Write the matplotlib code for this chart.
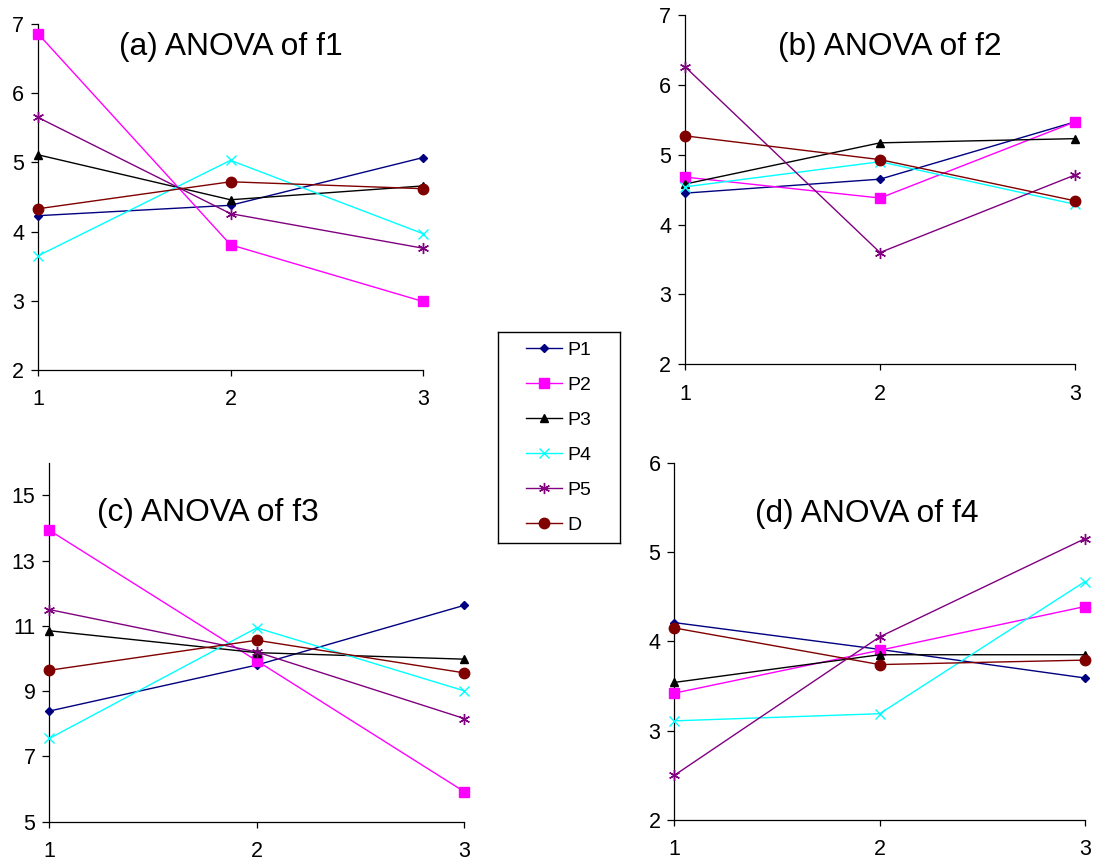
import matplotlib
matplotlib.use("Agg")
import matplotlib.pyplot as plt
from matplotlib.lines import Line2D

plt.rcParams['font.family'] = ['Liberation Sans', 'DejaVu Sans']

levels = [1, 2, 3]
series_names = ["P1", "P2", "P3", "P4", "P5", "D"]

# mean response at each level, one list per series
f1_P1 = [4.23, 4.38, 5.07]
f1_P2 = [6.86, 3.81, 2.99]
f1_P3 = [5.11, 4.46, 4.66]
f1_P4 = [3.65, 5.03, 3.97]
f1_P5 = [5.65, 4.26, 3.76]
f1_D = [4.33, 4.72, 4.62]

f2_P1 = [4.45, 4.65, 5.47]
f2_P2 = [4.68, 4.38, 5.47]
f2_P3 = [4.58, 5.17, 5.23]
f2_P4 = [4.54, 4.90, 4.29]
f2_P5 = [6.26, 3.60, 4.71]
f2_D = [5.27, 4.93, 4.34]

f3_P1 = [8.39, 9.80, 11.63]
f3_P2 = [13.93, 9.93, 5.92]
f3_P3 = [10.85, 10.18, 9.98]
f3_P4 = [7.55, 10.94, 9.01]
f3_P5 = [11.50, 10.20, 8.16]
f3_D = [9.64, 10.56, 9.56]

f4_P1 = [4.21, 3.91, 3.59]
f4_P2 = [3.42, 3.90, 4.39]
f4_P3 = [3.54, 3.85, 3.85]
f4_P4 = [3.11, 3.19, 4.67]
f4_P5 = [2.50, 4.05, 5.15]
f4_D = [4.15, 3.74, 3.79]

panel_titles = ["(a) ANOVA of f1", "(b) ANOVA of f2",
                "(c) ANOVA of f3", "(d) ANOVA of f4"]
panel_data = [
    [f1_P1, f1_P2, f1_P3, f1_P4, f1_P5, f1_D],
    [f2_P1, f2_P2, f2_P3, f2_P4, f2_P5, f2_D],
    [f3_P1, f3_P2, f3_P3, f3_P4, f3_P5, f3_D],
    [f4_P1, f4_P2, f4_P3, f4_P4, f4_P5, f4_D],
]
panel_ylim = [(2, 7), (2, 7), (5, 16), (2, 6)]
panel_yticks = [[2, 3, 4, 5, 6, 7], [2, 3, 4, 5, 6, 7],
                [5, 7, 9, 11, 13, 15], [2, 3, 4, 5, 6]]

styles = [
    dict(color="#000080", marker="D", ms=4.5),
    dict(color="#FF00FF", marker="s", ms=7),
    dict(color="#000000", marker="^", ms=6),
    dict(color="#00FFFF", marker="x", ms=7.5, mew=1.0),
    dict(color="#800080", marker=(6, 2, 0), ms=8, mew=1.0),
    dict(color="#800000", marker="o", ms=7.5),
]

W, H = 1096, 863
fig = plt.figure(figsize=(W / 100, H / 100), dpi=100)
fig.patch.set_facecolor("white")


def px_axes(left, top, right, bottom):
    return fig.add_axes([left / W, 1 - bottom / H, (right - left) / W, (bottom - top) / H])


axes_px = [(38, 24, 423, 370), (685, 15, 1075, 364.3),
           (49.3, 462.7, 464.3, 821.7), (674.3, 462.7, 1085, 820)]
title_px = [(231, 47), (890, 47), (208, 513), (867, 514)]

for k in range(4):
    ax = px_axes(*axes_px[k])
    for vals, st in zip(panel_data[k], styles):
        ax.plot(levels, vals, lw=1.0, clip_on=False, zorder=3, **st)
    ax.set_xlim(1, 3)
    ax.set_ylim(*panel_ylim[k])
    ax.set_xticks(levels)
    ax.set_yticks(panel_yticks[k])
    for s in ("top", "right"):
        ax.spines[s].set_visible(False)
    for s in ("left", "bottom"):
        ax.spines[s].set_color("#000000")
        ax.spines[s].set_linewidth(0.9)
    ax.tick_params(axis="y", direction="out", length=5, width=0.9, pad=5, labelsize=15.5)
    ax.tick_params(axis="x", direction="out", length=4, width=0.9, pad=10, labelsize=15.5)
    ax.patch.set_alpha(0)
    tx, ty = title_px[k]
    fig.text(tx / W, 1 - ty / H, panel_titles[k], ha="center", va="center", fontsize=22.9)

# legend panel
lax = px_axes(498.3, 331.7, 620, 543.3)
lax.set_xticks([])
lax.set_yticks([])
for s in lax.spines.values():
    s.set_color("#000000")
    s.set_linewidth(1.0)
handles = [Line2D([], [], lw=1.0, **st) for st in styles]
lax.legend(handles, series_names, loc="center", frameon=False, fontsize=14,
           handlelength=1.85, handletextpad=0.28, labelspacing=0.9)

fig.savefig("out.png", dpi=100)
